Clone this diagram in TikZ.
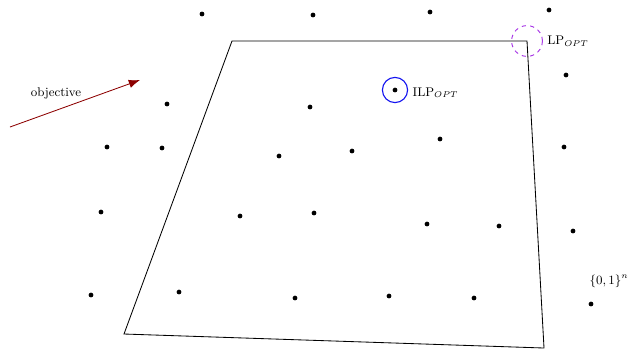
\documentclass[tikz,border=0pt]{standalone}
\usepackage{amsmath,amssymb}
\usepackage{xcolor}
\usepackage{tikz}
\usetikzlibrary{arrows.meta, positioning}
\definecolor{objred}{RGB}{140,0,0}
\definecolor{lpviolet}{RGB}{170,60,230}
\definecolor{ilpblue}{RGB}{20,20,240}
\tikzset{
  lattice/.style={circle, fill=black, inner sep=0pt, minimum size=3.4pt},
  polytope/.style={draw=black, line width=0.6pt},
  objective/.style={draw=objred, line width=0.6pt, -{Latex[length=8pt, width=6pt]}},
  lp opt/.style={circle, draw=lpviolet, dashed, line width=0.7pt, minimum size=22pt, inner sep=0pt},
  ilp opt/.style={circle, draw=ilpblue, line width=0.8pt, minimum size=18pt, inner sep=0pt},
  tag/.style={font=\small, inner sep=1pt},
}

\begin{document}
\begin{tikzpicture}[x=0.0251cm, y=-0.0251cm]
  \useasboundingbox (0,0) rectangle (628,350);

  % integer points
  \foreach \x/\y [count=\i] in {202/14, 313/15, 430/12, 549/10, 566/75,
      167/104, 310/107, 107/147, 162/148, 279/156, 352/151, 440/139, 564/147,
      101/212, 240/216, 314/213, 427/224, 499/226, 573/231,
      91/295, 179/292, 295/298, 389/296, 474/298, 591/304}
    \node[lattice] (p\i) at (\x,\y) {};

  % feasible region
  \coordinate (c1) at (232,41);
  \coordinate (c2) at (527,41);
  \coordinate (c3) at (544,348);
  \coordinate (c4) at (124,334);
  \draw[polytope] (c1) -- (c2) -- (c3) -- (c4) -- cycle;

  % optima
  \node[lp opt] (LP) at (c2) {};
  \node[tag, right=2pt of LP] (LPlab) {LP$_{OPT}$};
  \node[lattice] (opt) at (395,90) {};
  \node[ilp opt] (ILP) at (opt) {};
  \node[tag, right=2pt of ILP, yshift=-2pt] (ILPlab) {ILP$_{OPT}$};

  % objective direction
  \coordinate (o1) at (10,127);
  \coordinate (o2) at (140,80);
  \draw[objective] (o1) -- (o2);
  \node[tag] (obj) at (56,93) {objective};

  \node[tag] (cube) at (609,281) {$\{0,1\}^n$};
\end{tikzpicture}
\end{document}
